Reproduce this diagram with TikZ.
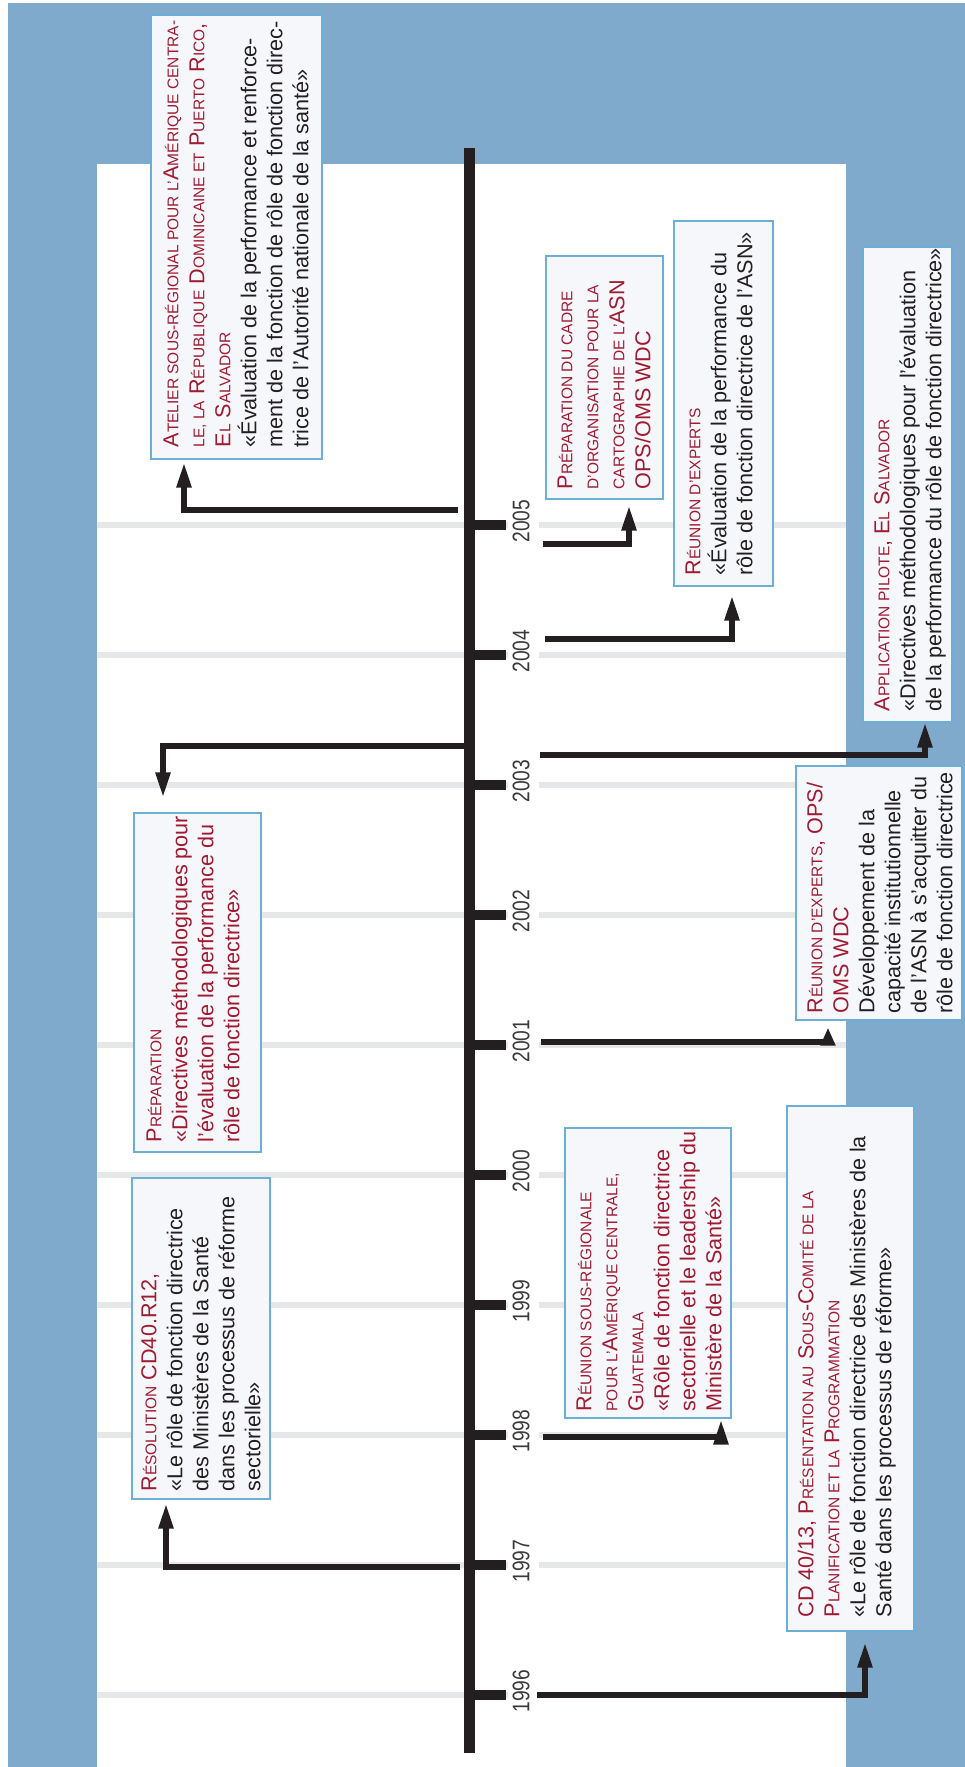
\documentclass[tikz,border=0pt]{standalone}
\usepackage{fontspec}
\setmainfont{Liberation Sans}
\usepackage{graphicx}
\usetikzlibrary{arrows.meta,fit}
\definecolor{bgblue}{RGB}{128,170,203}
\definecolor{gridgray}{RGB}{230,231,232}
\definecolor{ink}{RGB}{35,31,32}
\definecolor{hdred}{RGB}{160,27,50}
\definecolor{boxfill}{RGB}{246,247,250}
\definecolor{boxline}{RGB}{107,174,214}
\definecolor{yearink}{RGB}{60,57,58}
\newcommand\bodyfont{\fontsize{21.6}{26}\selectfont}
\newcommand\sm[1]{{\fontsize{15.5}{26}\selectfont\MakeUppercase{#1}}}
\newcommand\evtxt[1]{\parbox[t]{600pt}{\raggedright\leavevmode #1}}
\begin{document}
\begin{tikzpicture}[x=1pt,y=-1pt,
  evbox/.style={draw=boxline, fill=boxfill, line width=1.1pt, inner sep=0pt, rectangle},
  evtext/.style={rotate=90, anchor=base west, inner sep=0pt, text=ink, font=\bodyfont},
  conn/.style={draw=ink, line width=5.3pt, -{Triangle[width=14pt,length=25pt]}},
  gridln/.style={draw=gridgray, line width=6pt},
  tickln/.style={draw=ink, line width=10pt},
  yearlbl/.style={rotate=90, text=yearink, font=\fontsize{24}{24}\selectfont, inner sep=0pt}]
\useasboundingbox (0,0) rectangle (965,1767);
\fill[white] (0,0) rectangle (965,1767);
\fill[bgblue] (8,3) rectangle (965,1767);
\fill[white] (97,164) rectangle (846,1767);
\foreach \yr in {1996,...,2005}{
  \pgfmathsetmacro\yy{1695-130*(\yr-1996)}
  \draw[gridln] (97,\yy) -- (508,\yy);
  \draw[gridln] (539,\yy) -- (846,\yy);
  \draw[tickln] (470,\yy) -- (506,\yy);
  \node[yearlbl] (y\yr) at (521,\yy-4) {\scalebox{0.8}[1]{\yr}};
}
% spine
\draw[ink, line width=11pt] (469.5,148) -- (469.5,1753);

% boxes
\node[evbox, fit={(151,15) (322,459)}] (A) {};
\node[evbox, fit={(134,813) (261,1152)}] (B) {};
\node[evbox, fit={(132,1178) (270,1499)}] (C) {};
\node[evbox, fit={(787,1106) (914,1631)}] (D) {};
\node[evbox, fit={(565,1128) (731,1418)}] (E) {};
\node[evbox, fit={(796,766) (962,1020)}] (F) {};
\node[evbox, fit={(863,247) (952,722)}] (G) {};
\node[evbox, fit={(674,221) (773,586)}] (H) {};
\node[evbox, fit={(546,256) (663,499)}] (I) {};

% texts
\node[evtext] (At) at ([shift={(28,-12)}]A.south west) {\evtxt{\color{hdred}A\sm{telier sous-régional pour l’}A\sm{mérique centra-}\\
\sm{le, la} R\sm{épublique} D\sm{ominicaine et} P\sm{uerto} R\sm{ico},\\
E\sm{l} S\sm{alvador}\\
\color{ink}«Évaluation de la performance et renforce-\\
ment de la fonction de rôle de fonction direc-\\
trice de l’Autorité nationale de la santé»}};

\node[evtext] (Bt) at ([shift={(28,-10)}]B.south west) {\evtxt{\color{hdred}P\sm{réparation}\\
«Directives méthodologiques pour\\
l’évaluation de la performance du\\
rôle de fonction directrice»}};

\node[evtext] (Ct) at ([shift={(25,-8)}]C.south west) {\evtxt{\color{hdred}R\sm{ésolution} CD40.R12,\\
\color{ink}«Le rôle de fonction directrice\\
des Ministères de la Santé\\
dans les processus de réforme\\
sectorielle»}};

\node[evtext] (Dt) at ([shift={(27,-14)}]D.south west) {\evtxt{\color{hdred}CD 40/13, P\sm{résentation au} S\sm{ous}-C\sm{omité de la}\\
P\sm{lanification et la} P\sm{rogrammation}\\
\color{ink}«Le rôle de fonction directrice des Ministères de la\\
Santé dans les processus de réforme»}};

\node[evtext] (Et) at ([shift={(27,-7)}]E.south west) {\evtxt{\color{hdred}R\sm{éunion sous-régionale}\\
\sm{pour l’}A\sm{mérique centrale,}\\
G\sm{uatemala}\\
«Rôle de fonction directrice\\
sectorielle et le leadership du\\
Ministère de la Santé»}};

\node[evtext] (Ft) at ([shift={(27,-7)}]F.south west) {\evtxt{\color{hdred}R\sm{éunion d’experts}, OPS/\\
OMS WDC\\
\color{ink}Développement de la\\
capacité institutionnelle\\
de l’ASN à s’acquitter du\\
rôle de fonction directrice}};

\node[evtext] (Gt) at ([shift={(27,-11)}]G.south west) {\evtxt{\color{hdred}A\sm{pplication pilote}, E\sm{l} S\sm{alvador}\\
\color{ink}«Directives méthodologiques pour l’évaluation\\
de la performance du rôle de fonction directrice»}};

\node[evtext] (Ht) at ([shift={(27,-11)}]H.south west) {\evtxt{\color{hdred}R\sm{éunion d’experts}\\
\color{ink}«Évaluation de la performance du\\
rôle de fonction directrice de l’ASN»}};

\node[evtext] (It) at ([shift={(27,-10)}]I.south west) {\evtxt{\color{hdred}P\sm{réparation du cadre}\\
\sm{d’organisation pour la}\\
\sm{cartographie de l’}ASN\\
OPS/OMS WDC}};

% connectors
\coordinate (s96) at (537,1695); \coordinate (k96) at (865,1695);
\draw[conn, shorten >=11pt] (s96) -| (k96 |- D.south);
\coordinate (s97) at (460,1567); \coordinate (k97) at (166,1567);
\draw[conn, shorten >=4pt] (s97) -| (k97 |- C.south);
\coordinate (s98) at (543,1437); \coordinate (k98) at (721,1437);
\draw[conn, shorten >=1pt] (s98) -| (k98 |- E.south);
\coordinate (s01) at (541,1042); \coordinate (k01) at (828,1042);
\draw[draw=ink, line width=5.3pt, -{Triangle[width=14pt,length=18pt]}, shorten >=7pt] (s01) -| (k01 |- F.south);
\coordinate (s03) at (540,755); \coordinate (k03) at (925,755);
\draw[conn] (s03) -| (k03 |- G.south);
\coordinate (t03) at (465,746); \coordinate (j03) at (163,746);
\draw[conn, shorten >=15pt] (t03) -| (j03 |- B.north);
\coordinate (s04) at (545,639); \coordinate (k04) at (732,639);
\draw[conn, shorten >=9pt] (s04) -| (k04 |- H.south);
\coordinate (s05) at (543,544); \coordinate (k05) at (629,544);
\draw[conn, shorten >=6pt] (s05) -| (k05 |- I.south);
\coordinate (t05) at (458,510); \coordinate (j05) at (184,510);
\draw[conn, shorten >=3pt] (t05) -| (j05 |- A.south);
\end{tikzpicture}
\end{document}
